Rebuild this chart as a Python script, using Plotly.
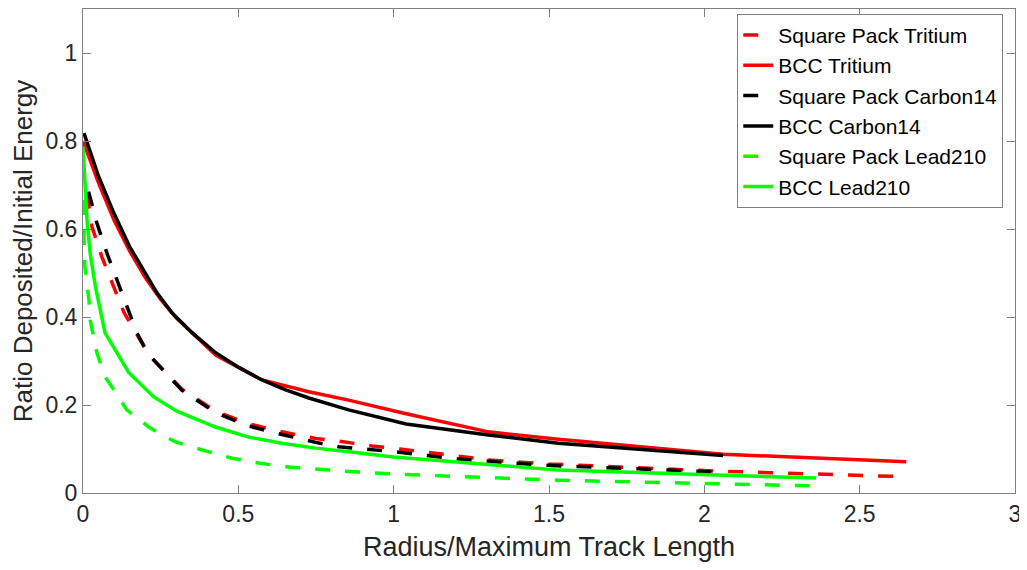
import plotly.graph_objects as go

# Square Pack Tritium (red dashed)
sp_tritium_x = [0.013, 0.029, 0.061, 0.093, 0.132, 0.212, 0.318, 0.428, 0.534, 0.64, 0.749, 0.823, 0.93, 1.02, 1.12, 1.21, 1.31, 1.5, 2.03, 2.65]
sp_tritium_y = [0.68, 0.605, 0.536, 0.477, 0.41, 0.314, 0.236, 0.185, 0.157, 0.139, 0.124, 0.118, 0.107, 0.10, 0.092, 0.083, 0.075, 0.066, 0.05, 0.037]

# BCC Tritium (red solid)
bcc_tritium_x = [0.0, 0.05, 0.1, 0.15, 0.2, 0.25, 0.3, 0.428, 0.576, 0.65, 0.727, 0.855, 1.04, 1.305, 1.53, 2.06, 2.65]
bcc_tritium_y = [0.80, 0.705, 0.62, 0.55, 0.49, 0.44, 0.398, 0.313, 0.257, 0.243, 0.23, 0.211, 0.18, 0.139, 0.122, 0.088, 0.071]

# Square Pack Carbon14 (black dashed)
sp_carbon_x = [0.018, 0.045, 0.077, 0.109, 0.141, 0.174, 0.212, 0.318, 0.428, 0.534, 0.64, 0.749, 0.823, 1.0, 1.21, 1.305, 1.49, 2.03, 2.07]
sp_carbon_y = [0.685, 0.613, 0.545, 0.484, 0.423, 0.363, 0.314, 0.234, 0.182, 0.152, 0.133, 0.115, 0.105, 0.094, 0.077, 0.072, 0.063, 0.048, 0.047]

# BCC Carbon14 (black solid)
bcc_carbon_x = [0.003, 0.05, 0.1, 0.15, 0.2, 0.238, 0.287, 0.35, 0.428, 0.5, 0.576, 0.65, 0.727, 0.855, 1.04, 1.305, 1.53, 2.06]
bcc_carbon_y = [0.818, 0.72, 0.635, 0.56, 0.5, 0.455, 0.409, 0.365, 0.318, 0.286, 0.257, 0.235, 0.216, 0.189, 0.157, 0.132, 0.113, 0.085]

# Square Pack Lead210 (green dashed)
sp_lead_x = [0.0, 0.003, 0.006, 0.019, 0.023, 0.045, 0.071, 0.1, 0.141, 0.215, 0.298, 0.383, 0.48, 0.566, 0.662, 0.855, 1.0, 1.53, 2.36]
sp_lead_y = [0.666, 0.568, 0.514, 0.44, 0.393, 0.318, 0.264, 0.234, 0.189, 0.148, 0.116, 0.098, 0.079, 0.068, 0.059, 0.049, 0.043, 0.029, 0.016]

# BCC Lead210 (green solid)
bcc_lead_x = [0.0, 0.013, 0.023, 0.04, 0.071, 0.147, 0.227, 0.302, 0.427, 0.534, 0.64, 0.749, 0.855, 1.0, 1.53, 2.36]
bcc_lead_y = [0.787, 0.62, 0.545, 0.469, 0.364, 0.274, 0.219, 0.186, 0.15, 0.127, 0.113, 0.102, 0.094, 0.082, 0.052, 0.034]

x_ticks = [0, 0.5, 1, 1.5, 2, 2.5, 3]
x_tick_labels = ["0", "0.5", "1", "1.5", "2", "2.5", "3"]
y_ticks = [0, 0.2, 0.4, 0.6, 0.8, 1]
y_tick_labels = ["0", "0.2", "0.4", "0.6", "0.8", "1"]

RED = "#ff0000"
BLACK = "#000000"
GREEN = "#00ff00"
DASH = "15px,15px"
LW = 3.5

series = [
    ("Square Pack Tritium", sp_tritium_x, sp_tritium_y, RED, DASH),
    ("BCC Tritium", bcc_tritium_x, bcc_tritium_y, RED, "solid"),
    ("Square Pack Carbon14", sp_carbon_x, sp_carbon_y, BLACK, DASH),
    ("BCC Carbon14", bcc_carbon_x, bcc_carbon_y, BLACK, "solid"),
    ("Square Pack Lead210", sp_lead_x, sp_lead_y, GREEN, DASH),
    ("BCC Lead210", bcc_lead_x, bcc_lead_y, GREEN, "solid"),
]

fig = go.Figure()
for name, xs, ys, col, dash in series:
    fig.add_trace(go.Scatter(x=xs, y=ys, mode="lines", name=name,
                             line=dict(color=col, width=LW, dash=dash)))

FONT = "Arial, Liberation Sans, sans-serif"
AX = "#808080"
TXT = "#262626"
# page body has an 8px default margin, so the figure is sized to fit the window
fig.update_layout(
    width=1019, height=554,
    margin=dict(l=75, r=12, t=1, b=69),
    paper_bgcolor="white", plot_bgcolor="white",
    font=dict(family=FONT, color=TXT, size=23),
    showlegend=True,
    legend=dict(x=0.702, y=0.99, xanchor="left", yanchor="top",
                bgcolor="white", bordercolor=AX, borderwidth=1,
                font=dict(size=21, color="#000000"),
                tracegroupgap=0, itemwidth=30),
    xaxis=dict(range=[0, 3], tickvals=x_ticks, ticktext=x_tick_labels,
               showgrid=False, zeroline=False, showline=True, mirror="ticks",
               linecolor=AX, linewidth=1, ticks="inside", ticklen=8, tickcolor=AX,
               tickfont=dict(size=23, color=TXT), automargin=False,
               ticklabeloverflow="allow",
               title=dict(text="Radius/Maximum Track Length", font=dict(size=27, color=TXT), standoff=14)),
    yaxis=dict(range=[0, 1.1], tickvals=y_ticks, ticktext=y_tick_labels,
               showgrid=False, zeroline=False, showline=True, mirror="ticks",
               linecolor=AX, linewidth=1, ticks="inside", ticklen=8, tickcolor=AX,
               tickfont=dict(size=23, color=TXT), automargin=False,
               title=dict(text="Ratio Deposited/Initial Energy", font=dict(size=26, color=TXT), standoff=12)),
)

fig.write_html("out.html")
